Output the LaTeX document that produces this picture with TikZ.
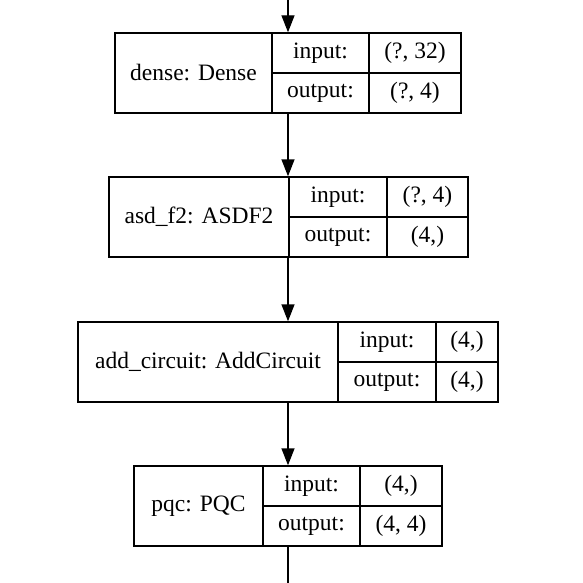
\documentclass[tikz,border=0pt]{standalone}
\usepackage{fontspec}
\setmainfont{Liberation Serif}
\usetikzlibrary{arrows.meta}

\begin{document}
\begin{tikzpicture}[x=1pt,y=-1pt,
    font=\fontsize{23.5}{28}\selectfont,
    cell/.style={draw,line width=1.4pt,inner sep=0pt,minimum height=40pt},
    namecell/.style={cell,minimum height=80pt},
    flow/.style={line width=1.4pt,-{Triangle[length=17pt,width=13pt]}}]
    \useasboundingbox (0,0) rectangle (583,583);

    % Flow axis
    \coordinate (top) at (288,0);
    \coordinate (bot) at (288,583);

    % dense: Dense
    \node[namecell,minimum width=157pt] (dense) at (193.5,73) {dense: Dense};
    \node[cell,minimum width=97pt] (densein)     at (320.5,53) {input:};
    \node[cell,minimum width=97pt] (denseout)    at (320.5,93) {output:};
    \node[cell,minimum width=92pt] (denseinval)  at (415,53)   {(?, 32)};
    \node[cell,minimum width=92pt] (denseoutval) at (415,93)   {(?, 4)};

    % asd_f2: ASDF2
    \node[namecell,minimum width=180pt] (asd) at (199,217) {asd\_f2: ASDF2};
    \node[cell,minimum width=98pt] (asdin)     at (338,197)   {input:};
    \node[cell,minimum width=98pt] (asdout)    at (338,237)   {output:};
    \node[cell,minimum width=81pt] (asdinval)  at (427.5,197) {(?, 4)};
    \node[cell,minimum width=81pt] (asdoutval) at (427.5,237) {(4,)};

    % add_circuit: AddCircuit
    \node[namecell,minimum width=260pt] (add) at (208,362) {add\_circuit: AddCircuit};
    \node[cell,minimum width=98pt] (addin)     at (387,342) {input:};
    \node[cell,minimum width=98pt] (addout)    at (387,382) {output:};
    \node[cell,minimum width=62pt] (addinval)  at (467,342) {(4,)};
    \node[cell,minimum width=62pt] (addoutval) at (467,382) {(4,)};

    % pqc: PQC
    \node[namecell,minimum width=129pt] (pqc) at (198.5,506) {pqc: PQC};
    \node[cell,minimum width=97pt] (pqcin)     at (311.5,486) {input:};
    \node[cell,minimum width=97pt] (pqcout)    at (311.5,526) {output:};
    \node[cell,minimum width=82pt] (pqcinval)  at (401,486)   {(4,)};
    \node[cell,minimum width=82pt] (pqcoutval) at (401,526)   {(4, 4)};

    % Connections
    \draw[flow] (top) -- (dense.north -| top);
    \draw[flow] (dense.south -| top) -- (asd.north -| top);
    \draw[flow] (asd.south -| top) -- (add.north -| top);
    \draw[flow] (add.south -| top) -- (pqc.north -| top);
    \draw[line width=1.4pt] (pqc.south -| bot) -- (bot);
\end{tikzpicture}
\end{document}
